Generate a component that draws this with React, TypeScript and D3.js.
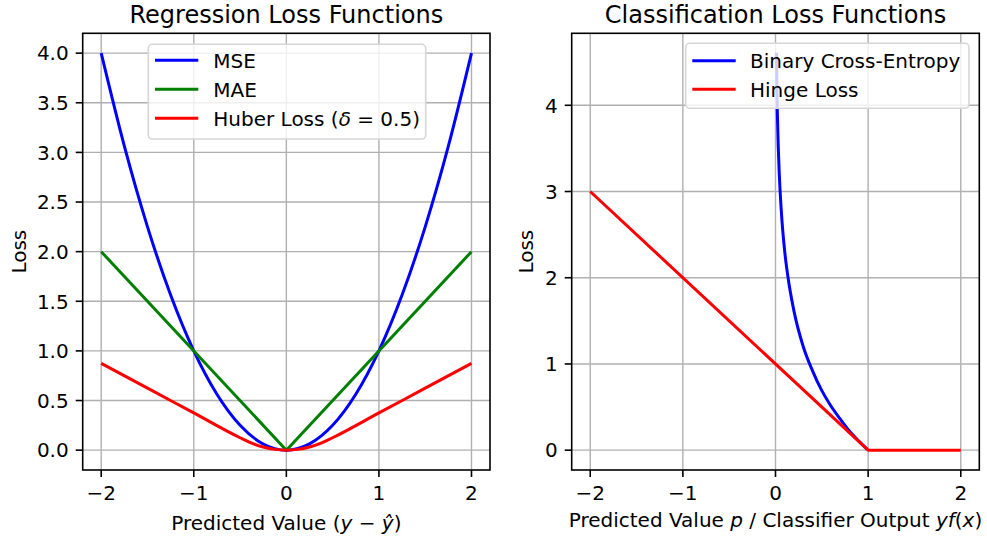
import React, { useRef, useEffect } from 'react';
import * as d3 from 'd3';

// regression panel
const regX = [-2, -1.75, -1.5, -1.25, -1, -0.75, -0.5, -0.25, 0, 0.25, 0.5, 0.75, 1, 1.25, 1.5, 1.75, 2];
const mseY = [4, 3.0625, 2.25, 1.5625, 1, 0.5625, 0.25, 0.0625, 0, 0.0625, 0.25, 0.5625, 1, 1.5625, 2.25, 3.0625, 4];
const maeX = [-2, 0, 2];
const maeY = [2, 0, 2];
const huberX = [-2, -1.5, -1, -0.5, -0.375, -0.25, -0.125, 0, 0.125, 0.25, 0.375, 0.5, 1, 1.5, 2];
const huberY = [0.875, 0.625, 0.375, 0.125, 0.0703, 0.0313, 0.0078, 0, 0.0078, 0.0313, 0.0703, 0.125, 0.375, 0.625, 0.875];

// classification panel
const bceX = [0.01, 0.015, 0.02, 0.03, 0.04, 0.05, 0.07, 0.1, 0.15, 0.2, 0.3, 0.4, 0.5, 0.6, 0.7, 0.8, 0.9, 0.99];
const bceY = [4.61, 4.2, 3.91, 3.51, 3.22, 3.0, 2.66, 2.3, 1.9, 1.61, 1.2, 0.92, 0.69, 0.51, 0.36, 0.22, 0.105, 0.01];
const hingeX = [-2, 1, 2];
const hingeY = [3, 0, 0];

const xTicks = [-2, -1, 0, 1, 2];
const regYTicks = [0, 0.5, 1, 1.5, 2, 2.5, 3, 3.5, 4];
const clsYTicks = [0, 1, 2, 3, 4];

const FONT = 'DejaVu Sans, sans-serif';

type Seg = { text: string; italic?: boolean };
type Series = { xs: number[]; ys: number[]; color: string; label: Seg[]; curve?: boolean };

const fmtNum = (v: number, dec: number) => {
  const s = v.toFixed(dec);
  return v < 0 ? '\u2212' + s.slice(1) : s;
};

const addText = (sel: d3.Selection<SVGTextElement, unknown, null, undefined>, segs: Seg[]) => {
  segs.forEach((s) => {
    sel.append('tspan').attr('font-style', s.italic ? 'italic' : 'normal').text(s.text);
  });
};

const App = () => {
  const ref = useRef<SVGSVGElement>(null);

  useEffect(() => {
    const svg = d3.select(ref.current);
    svg.selectAll('*').remove();

    const drawPanel = (opts: {
      left: number;
      right: number;
      ylim: [number, number];
      yTicks: number[];
      yDec: number;
      title: string;
      xlabel: Seg[];
      xlabelY: number;
      ylabelX: number;
      series: Series[];
      legend: { x0: number; x1: number; y0: number; y1: number; lineX0: number; lineX1: number; textX: number; rows: number[] };
    }) => {
      const top = 33.3;
      const bottom = 470;
      const x = d3.scaleLinear().domain([-2.2, 2.2]).range([opts.left, opts.right]);
      const y = d3.scaleLinear().domain(opts.ylim).range([bottom, top]);
      const g = svg.append('g');

      // grid
      g.selectAll('.gx')
        .data(xTicks)
        .join('line')
        .attr('x1', (d) => x(d))
        .attr('x2', (d) => x(d))
        .attr('y1', top)
        .attr('y2', bottom)
        .attr('stroke', '#b0b0b0')
        .attr('stroke-width', 1.4);
      g.selectAll('.gy')
        .data(opts.yTicks)
        .join('line')
        .attr('x1', opts.left)
        .attr('x2', opts.right)
        .attr('y1', (d) => y(d))
        .attr('y2', (d) => y(d))
        .attr('stroke', '#b0b0b0')
        .attr('stroke-width', 1.4);

      // lines
      opts.series.forEach((s) => {
        const pts = s.xs.map((v, i) => [v, s.ys[i]] as [number, number]);
        const line = d3
          .line<[number, number]>()
          .x((d) => x(d[0]))
          .y((d) => y(d[1]))
          .curve(s.curve ? d3.curveMonotoneX : d3.curveLinear);
        g.append('path')
          .attr('d', line(pts))
          .attr('fill', 'none')
          .attr('stroke', s.color)
          .attr('stroke-width', 3)
          .attr('stroke-linejoin', 'round');
      });

      // frame
      g.append('rect')
        .attr('x', opts.left)
        .attr('y', top)
        .attr('width', opts.right - opts.left)
        .attr('height', bottom - top)
        .attr('fill', 'none')
        .attr('stroke', '#000')
        .attr('stroke-width', 1.6);

      // x ticks
      xTicks.forEach((t) => {
        g.append('line')
          .attr('x1', x(t))
          .attr('x2', x(t))
          .attr('y1', bottom)
          .attr('y2', bottom + 7)
          .attr('stroke', '#000')
          .attr('stroke-width', 1.6);
        g.append('text')
          .attr('x', x(t))
          .attr('y', 500)
          .attr('text-anchor', 'middle')
          .attr('font-family', FONT)
          .attr('font-size', 20)
          .text(fmtNum(t, 0));
      });

      // y ticks
      opts.yTicks.forEach((t) => {
        g.append('line')
          .attr('x1', opts.left - 7)
          .attr('x2', opts.left)
          .attr('y1', y(t))
          .attr('y2', y(t))
          .attr('stroke', '#000')
          .attr('stroke-width', 1.6);
        g.append('text')
          .attr('x', opts.left - 14)
          .attr('y', y(t) + 7.3)
          .attr('text-anchor', 'end')
          .attr('font-family', FONT)
          .attr('font-size', 20)
          .text(fmtNum(t, opts.yDec));
      });

      // title and labels
      g.append('text')
        .attr('x', (opts.left + opts.right) / 2)
        .attr('y', 23)
        .attr('text-anchor', 'middle')
        .attr('font-family', FONT)
        .attr('font-size', 24)
        .text(opts.title);

      const xl = g
        .append('text')
        .attr('x', (opts.left + opts.right) / 2)
        .attr('y', opts.xlabelY)
        .attr('text-anchor', 'middle')
        .attr('font-family', FONT)
        .attr('font-size', 20);
      addText(xl, opts.xlabel);

      g.append('text')
        .attr('transform', `translate(${opts.ylabelX}, ${(top + bottom) / 2}) rotate(-90)`)
        .attr('text-anchor', 'middle')
        .attr('font-family', FONT)
        .attr('font-size', 20)
        .text('Loss');

      // legend
      const L = opts.legend;
      g.append('rect')
        .attr('x', L.x0)
        .attr('y', L.y0)
        .attr('width', L.x1 - L.x0)
        .attr('height', L.y1 - L.y0)
        .attr('rx', 4)
        .attr('fill', 'rgba(255,255,255,0.8)')
        .attr('stroke', '#d6d6d6')
        .attr('stroke-width', 1.6);
      opts.series.forEach((s, i) => {
        const cy = L.rows[i];
        g.append('line')
          .attr('x1', L.lineX0)
          .attr('x2', L.lineX1)
          .attr('y1', cy)
          .attr('y2', cy)
          .attr('stroke', s.color)
          .attr('stroke-width', 3);
        const t = g
          .append('text')
          .attr('x', L.textX)
          .attr('y', cy + 7.3)
          .attr('font-family', FONT)
          .attr('font-size', 20);
        addText(t, s.label);
      });
    };

    drawPanel({
      left: 82.7,
      right: 490,
      ylim: [-0.2, 4.2],
      yTicks: regYTicks,
      yDec: 1,
      title: 'Regression Loss Functions',
      xlabel: [{ text: 'Predicted Value (' }, { text: 'y', italic: true }, { text: ' \u2212 ' }, { text: 'ŷ', italic: true }, { text: ')' }],
      xlabelY: 530,
      ylabelX: 26,
      series: [
        { xs: regX, ys: mseY, color: '#0000ff', label: [{ text: 'MSE' }], curve: true },
        { xs: maeX, ys: maeY, color: '#008000', label: [{ text: 'MAE' }] },
        {
          xs: huberX,
          ys: huberY,
          color: '#ff0000',
          label: [{ text: 'Huber Loss (' }, { text: 'δ', italic: true }, { text: ' = 0.5)' }],
          curve: true,
        },
      ],
      legend: { x0: 148.3, x1: 425.7, y0: 44.3, y1: 139, lineX0: 155, lineX1: 198.3, textX: 213.3, rows: [60.3, 89.3, 118.3] },
    });

    drawPanel({
      left: 571.7,
      right: 979.3,
      ylim: [-0.23, 4.835],
      yTicks: clsYTicks,
      yDec: 0,
      title: 'Classification Loss Functions',
      xlabel: [
        { text: 'Predicted Value ' },
        { text: 'p', italic: true },
        { text: ' / Classifier Output ' },
        { text: 'yf', italic: true },
        { text: '(' },
        { text: 'x', italic: true },
        { text: ')' },
      ],
      xlabelY: 526.7,
      ylabelX: 533,
      series: [
        { xs: bceX, ys: bceY, color: '#0000ff', label: [{ text: 'Binary Cross-Entropy' }], curve: true },
        { xs: hingeX, ys: hingeY, color: '#ff0000', label: [{ text: 'Hinge Loss' }] },
      ],
      legend: { x0: 685.7, x1: 969, y0: 43.3, y1: 108.3, lineX0: 692.3, lineX1: 735.7, textX: 750, rows: [60.8, 89.3] },
    });
  }, []);

  return (
    <svg
      ref={ref}
      width={987}
      height={539}
      style={{ position: 'absolute', left: 0, top: 0, background: '#fff' }}
    />
  );
};

export default App;
